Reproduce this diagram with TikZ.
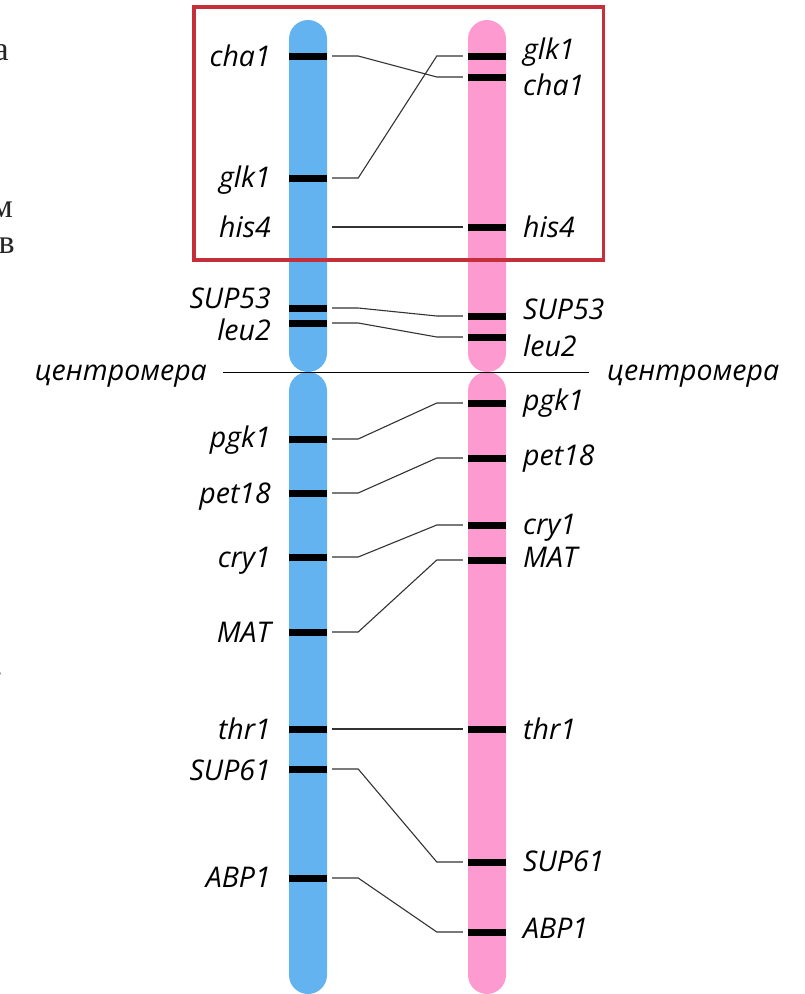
\documentclass[tikz,border=0pt]{standalone}
\usepackage{fontspec}
\setmainfont{Open Sans}
\newfontfamily\serifcut{Liberation Serif}

\definecolor{chromA}{HTML}{63B3F0}
\definecolor{chromB}{HTML}{FD9BD1}
\definecolor{frameRed}{HTML}{C42F3A}

\tikzset{
  band/.style={rectangle, fill=black, draw=none, inner sep=0pt,
               minimum width=38pt, minimum height=7pt},
  gl/.style={font=\itshape\fontsize{28.5}{32}\selectfont, inner sep=0pt, text=black},
  link/.style={line width=1.1pt, draw=black!80},
  cut/.style={font=\serifcut\fontsize{34}{40}\selectfont, inner sep=0pt, text=black!85},
}

\begin{document}
\begin{tikzpicture}[x=1pt,y=-1pt]
\useasboundingbox (0,0) rectangle (805,994);
\fill[white] (0,0) rectangle (805,994);

% clipped ends of neighbouring text
\begin{scope}
  \clip (0,0) rectangle (805,994);
  \node[cut, anchor=base east] (cutA) at (9,60) {а};
  \node[cut, anchor=base east] (cutB) at (13,217) {м};
  \node[cut, anchor=base east] (cutC) at (15,253) {ов};
  \node[cut, anchor=base east] (cutD) at (3,675) {.};
\end{scope}

% chromosome arms
\fill[chromA, rounded corners=19pt] (289,20) rectangle (327,372);
\fill[chromA, rounded corners=19pt] (289,372) rectangle (327,994);
\fill[chromB, rounded corners=19pt] (468,20) rectangle (506,372);
\fill[chromB, rounded corners=19pt] (468,372) rectangle (506,994);

% bands, left chromosome
\foreach \n/\y in {cha1/56, glk1/178, SUP53/308, leu2/323, pgk1/439, pet18/493,
                   cry1/557, MAT/632, thr1/729, SUP61/769, ABP1/878}
  \node[band] (L-\n) at (308,\y) {};
\node[band, fill=none] (L-his4) at (308,227) {};

% bands, right chromosome
\foreach \n/\y in {glk1/56, cha1/77, his4/227, SUP53/316, leu2/337, pgk1/403,
                   pet18/458, cry1/525, MAT/560, thr1/729, SUP61/862, ABP1/932}
  \node[band] (R-\n) at (487,\y) {};

% gene labels
\foreach \n/\y in {cha1/66, glk1/187, his4/237, SUP53/308, leu2/340, pgk1/447,
                   pet18/503, cry1/567, MAT/642, thr1/739, SUP61/780, ABP1/887}
  \node[gl, anchor=base east] (LT-\n) at (271,\y) {\n};
\foreach \n/\y in {glk1/59, cha1/95, his4/237, SUP53/319, leu2/356, pgk1/410,
                   pet18/465, cry1/534, MAT/567, thr1/739, SUP61/871, ABP1/938}
  \node[gl, anchor=base west] (RT-\n) at (523,\y) {\n};

% connectors between matching loci
\foreach \n in {cha1, glk1, his4, SUP53, leu2, pgk1, pet18, cry1, MAT, thr1, SUP61, ABP1}
  \draw[link] ([xshift=5pt]L-\n.east) -- ++(26,0)
              -- ([xshift=-31pt]R-\n.west) -- ([xshift=-5pt]R-\n.west);

% centromere
\node[gl, anchor=base east] (cenL) at (207,380) {центромера};
\node[gl, anchor=base west] (cenR) at (607,380) {центромера};
\draw[line width=1pt] ([xshift=16pt]cenL.east |- 0,372) coordinate (cl)
      -- ([xshift=-18pt]cenR.west |- 0,372) coordinate (cr);

% highlighted region
\draw[frameRed, line width=3.5pt] (194,7) rectangle (603.5,260);
\end{tikzpicture}
\end{document}
